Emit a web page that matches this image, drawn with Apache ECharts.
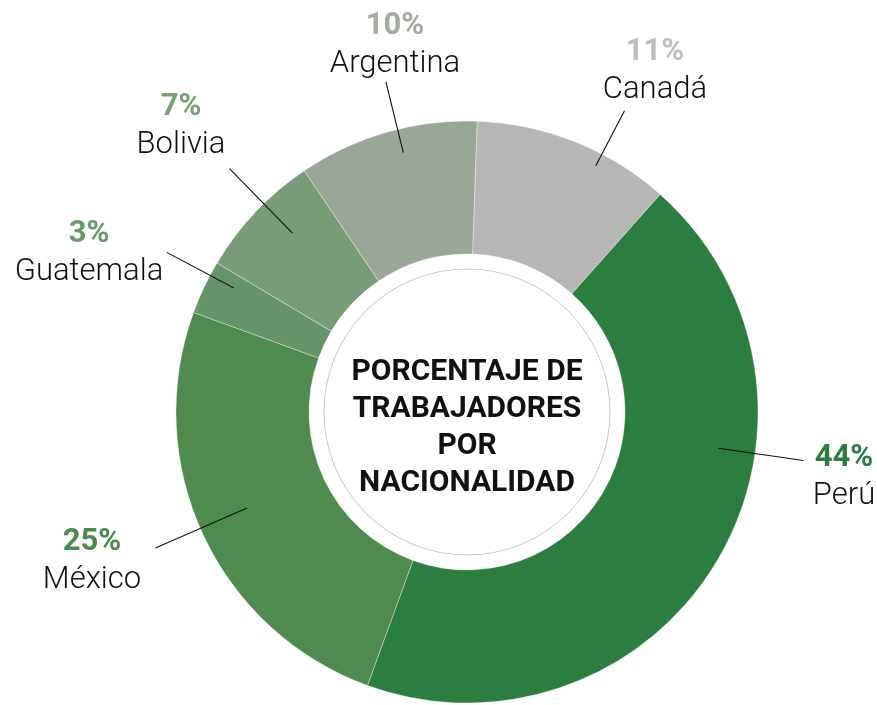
<!DOCTYPE html>
<html>
<head>
<meta charset="utf-8">
<script src="https://cdn.jsdelivr.net/npm/echarts@6/dist/echarts.min.js"></script>
<style>
  html, body { margin: 0; padding: 0; background: #fff; }
  #chart { width: 877px; height: 705px; }
</style>
</head>
<body>
<div id="chart"></div>
<script>
// data
var countries = ['Canadá', 'Perú', 'México', 'Guatemala', 'Bolivia', 'Argentina'];
var shares = [11, 44, 25, 3, 7, 10];
var centerTitle = 'PORCENTAJE DE\nTRABAJADORES\nPOR\nNACIONALIDAD';

// styles
var sliceColors = ['#b6b6b5', '#2b7d40', '#4f8a4e', '#66946a', '#789c78', '#9aa698'];
var pctColors = ['#bdbdbc', '#2e7d40', '#4a8a4b', '#6a9a6c', '#7aa07a', '#a3ada1'];
var cx = 467, cy = 412;
var rOuter = 291, rInner = 158;
// label block offset from center, and guide line (angle clockwise from top, start radius)
var labelPos = [
    { dx: 188, dy: -341, ang: 27.6, r0: 278 },
    { dx: 377, dy: 65, ang: 98.2, r0: 254 },
    { dx: -375, dy: 149, ang: 246.4, r0: 240 },
    { dx: -378, dy: -159, ang: 298, r0: 264 },
    { dx: -286, dy: -286, ang: 315.7, r0: 250 },
    { dx: -72, dy: -367, ang: 346.2, r0: 267 }
];
var rLineEnd = 340;

var rich = {};
countries.forEach(function (c, i) {
    rich['p' + i] = { fontFamily: 'Roboto', fontWeight: 'bold', fontSize: 31, color: pctColors[i], lineHeight: 38, align: 'center' };
});
rich.n = { fontFamily: 'Roboto', fontWeight: 300, fontSize: 31, color: '#111', lineHeight: 38, align: 'center' };

var chart = echarts.init(document.getElementById('chart'));
chart.setOption({
    backgroundColor: '#fff',
    animation: false,
    graphic: [
        {
            type: 'circle',
            shape: { cx: cx, cy: cy, r: 143 },
            style: { fill: 'none', stroke: '#c9c9c9', lineWidth: 1 },
            z: 10
        },
        {
            type: 'text',
            x: cx,
            y: cy + 16,
            z: 10,
            style: {
                text: centerTitle,
                fontFamily: 'Roboto',
                fontWeight: 'bold',
                fontSize: 30,
                lineHeight: 36.7,
                fill: '#111',
                align: 'center',
                verticalAlign: 'middle'
            }
        }
    ],
    series: [
        {
            // the ring itself
            type: 'pie',
            z: 2,
            center: [cx, cy],
            radius: [rInner, rOuter],
            startAngle: 88,
            silent: true,
            itemStyle: {
                borderColor: 'rgba(255,255,255,0.35)',
                borderWidth: 1
            },
            label: { show: false },
            labelLine: { show: false },
            data: countries.map(function (c, i) {
                return { name: c, value: shares[i], itemStyle: { color: sliceColors[i] } };
            })
        },
        {
            // transparent copy on top, carries the labels and guide lines
            type: 'pie',
            z: 3,
            center: [cx, cy],
            radius: [rInner, rOuter],
            startAngle: 88,
            silent: true,
            itemStyle: { color: 'rgba(0,0,0,0)', borderWidth: 0 },
            label: {
                show: true,
                position: 'outside',
                formatter: function (p) {
                    return '{p' + p.dataIndex + '|' + p.value + '%}\n{n|' + p.name + '}';
                },
                rich: rich
            },
            labelLine: {
                show: true,
                length: 10,
                length2: 10,
                lineStyle: { color: '#111', width: 1.1 }
            },
            labelLayout: function (params) {
                var lp = labelPos[params.dataIndex];
                var a = lp.ang * Math.PI / 180;
                var sx = Math.sin(a), sy = -Math.cos(a);
                return {
                    x: cx + lp.dx,
                    y: cy + lp.dy,
                    align: 'center',
                    verticalAlign: 'middle',
                    labelLinePoints: [
                        [cx + sx * lp.r0, cy + sy * lp.r0],
                        [cx + sx * rLineEnd, cy + sy * rLineEnd]
                    ]
                };
            },
            data: countries.map(function (c, i) {
                return { name: c, value: shares[i] };
            })
        }
    ]
});
</script>
</body>
</html>
